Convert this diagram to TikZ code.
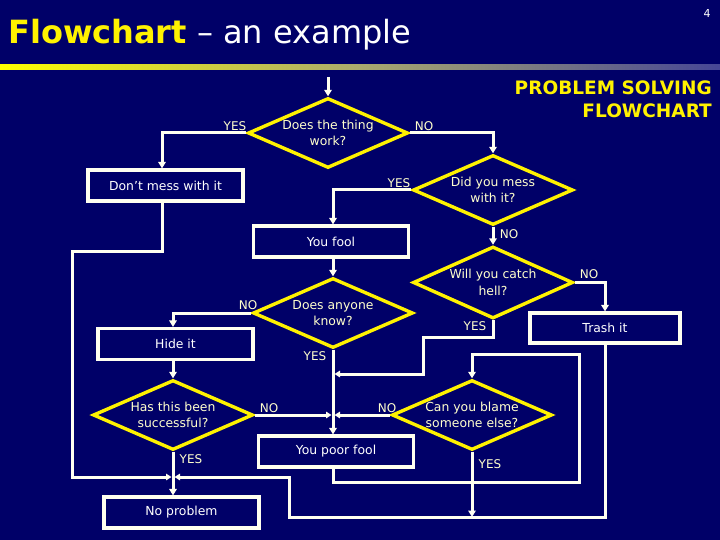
\documentclass[tikz,border=0pt]{standalone}
\usepackage{fontspec}
\setmainfont{DejaVu Sans}
\usetikzlibrary{shapes.geometric,arrows.meta}
\definecolor{navy}{RGB}{0,0,104}
\definecolor{pale}{RGB}{255,255,205}
\definecolor{linew}{RGB}{255,255,240}
\begin{document}
\begin{tikzpicture}[x=1pt,y=-1pt,
  dia/.style={diamond, draw=yellow, line width=3.4pt, minimum width=160pt, minimum height=70pt, inner sep=0pt},
  dtext/.style={text=pale, align=center, inner sep=0pt, font=\fontsize{12.4}{16.5}\selectfont},
  pbox/.style={draw=linew, line width=3.2pt, minimum width=155pt, minimum height=31pt, inner sep=0pt, text=white, font=\fontsize{12.4}{14}\selectfont},
  conn/.style={draw=linew, line width=3pt, -{Triangle[length=6.5pt,width=7.5pt]}},
  jconn/.style={conn, shorten >=1.5pt, -{Triangle[length=5.5pt,width=6.5pt]}},
  lbl/.style={text=pale, inner sep=0pt, font=\fontsize{12}{14}\selectfont}]
\fill[navy] (0,0) rectangle (720,540);
\useasboundingbox (0,0) rectangle (720,540);

% header
\node[anchor=base west, inner sep=0pt, font=\fontsize{32}{38}\selectfont] (title) at (8,44)
  {\textbf{\color{yellow}Flowchart} {\color{white}– an example}};
\node[text=white, inner sep=0pt, font=\fontsize{11}{13}\selectfont] (pg) at (707,13) {4};
\shade[left color=yellow, right color={rgb,255:red,70;green,70;blue,150},
  middle color={rgb,255:red,170;green,170;blue,110}] (0,65) rectangle (720,69.5);
\node[anchor=base east, inner sep=0pt, text=yellow, font=\bfseries\fontsize{18.5}{22}\selectfont] (ps1) at (712,95) {PROBLEM SOLVING};
\node[anchor=base east, inner sep=0pt, text=yellow, font=\bfseries\fontsize{18.5}{22}\selectfont] (ps2) at (712,118) {FLOWCHART};

% diamonds
\node[dia] (d1) at (328,133) {};
\node[dtext] at (d1) {Does the thing\\work?};
\node[dia] (d2) at (493,190) {};
\node[dtext] at (d2) {Did you mess\\with it?};
\node[dia, minimum height=72pt] (d3) at (493,282.5) {};
\node[dtext] at (d3) {Will you catch\\hell?};
\node[dia] (d5) at (333,313) {};
\node[dtext] at (d5) {Does anyone\\know?};
\node[dia] (d6) at (173,415) {};
\node[dtext] at (d6) {Has this been\\successful?};
\node[dia] (d4) at (472,415) {};
\node[dtext] at (d4) {Can you blame\\someone else?};

% boxes
\node[pbox] (b1) at (165.5,185.5) {Don't mess with it};
\node[pbox] (b2) at (331,241.5) {You fool};
\node[pbox] (b3) at (175.5,344) {Hide it};
\node[pbox, minimum width=150pt, minimum height=30pt] (b4) at (605,328) {Trash it};
\node[pbox] (b5) at (336,451.5) {You poor fool};
\node[pbox] (b6) at (181.5,512.5) {No problem};

% helper coordinates
\coordinate (start) at (328,77);
\coordinate (w1) at (72,251);
\coordinate (j1) at (173,477);
\coordinate (p1) at (423,337);
\coordinate (j2) at (333,374);
\coordinate (j3) at (333,415);
\coordinate (p2) at (579,482);
\coordinate (p3) at (579,354);
\coordinate (j4) at (472,517);
\coordinate (p4) at (289,517);

% connectors
\draw[conn] (start) -- (d1.north);
\draw[conn] (d1.west) -| ([xshift=-3.5pt]b1.north);
\draw[conn] (d1.east) -| (d2.north);
\draw[conn] (d2.west) -| ([xshift=2pt]b2.north);
\draw[conn] (d2.south) -- (d3.north);
\draw[conn] (d3.east) -| (b4.north);
\draw[conn] ([xshift=2pt]b2.south) -- (d5.north);
\draw[jconn] (d3.south) |- (p1) |- (j2);
\draw[conn] (d5.west) -| ([xshift=-2.5pt]b3.north);
\draw[conn] ([xshift=-2.5pt]b3.south) -- (d6.north);
\draw[conn] (d5.south) -- (d5.south |- b5.north);
\draw[jconn] (d6.east) -- (j3);
\draw[jconn] (d4.west) -- (j3);
\draw[conn] (d6.south) -- (d6.south |- b6.north);
\draw[jconn] ([xshift=-3.5pt]b1.south) |- (w1) |- (j1);
\draw[conn] (d5.south |- b5.south) |- (p2) -- (p3) -| (d4.north);
\draw[conn] (d4.south) -- (j4);
\draw[jconn] (b4.south) |- (p4) |- (j1);

% labels
\node[lbl] (l1) at (235,126) {YES};
\node[lbl] (l2) at (424,126) {NO};
\node[lbl] (l3) at (399,183) {YES};
\node[lbl] (l4) at (509,234) {NO};
\node[lbl] (l5) at (589,274) {NO};
\node[lbl] (l6) at (475,326) {YES};
\node[lbl] (l7) at (248,305) {NO};
\node[lbl] (l8) at (315,356) {YES};
\node[lbl] (l9) at (269,408) {NO};
\node[lbl] (l10) at (191,459) {YES};
\node[lbl] (l11) at (387,408) {NO};
\node[lbl] (l12) at (490,464) {YES};
\end{tikzpicture}
\end{document}
